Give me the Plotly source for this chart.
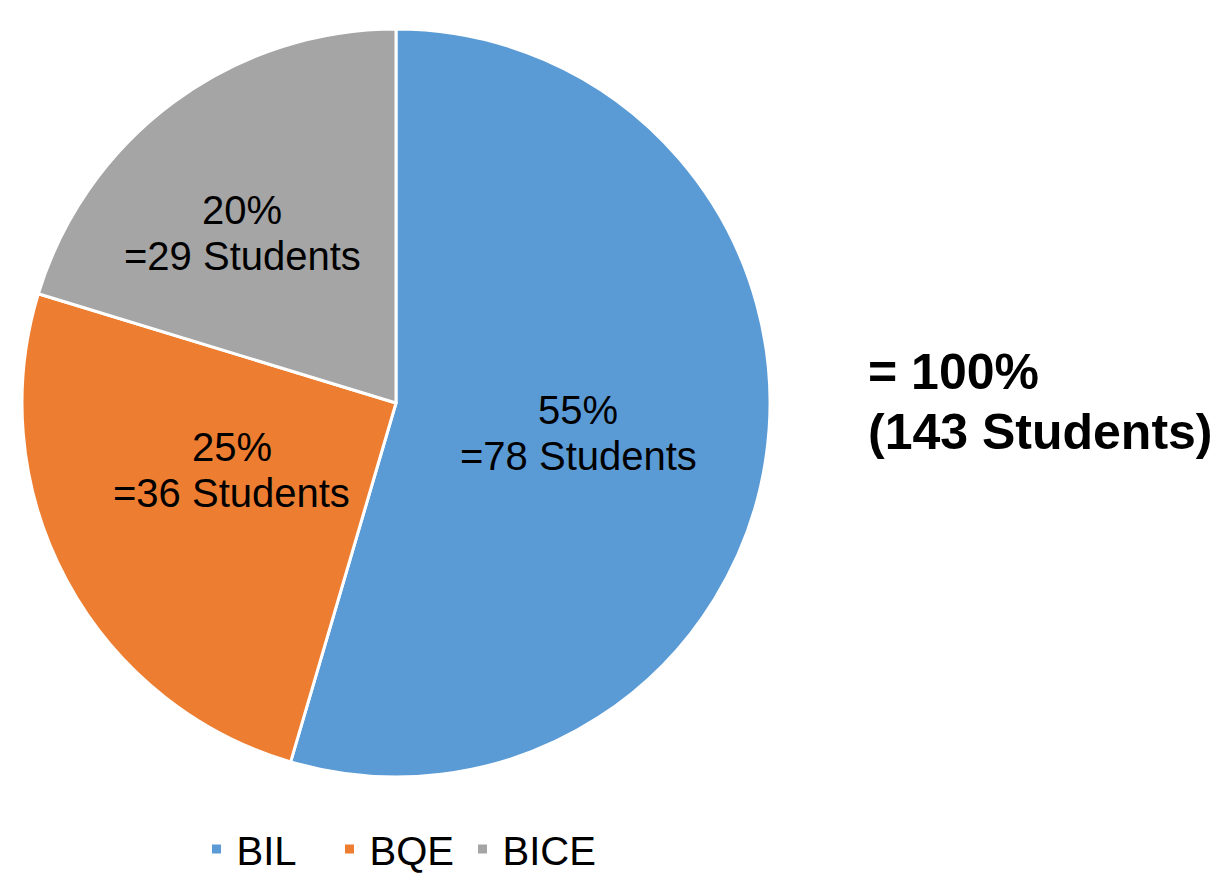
import math
import plotly.graph_objects as go

labels = ["BIL", "BQE", "BICE"]
students = [78, 36, 29]
colors = ["#5B9BD5", "#ED7D31", "#A5A5A5"]

total = sum(students)
W, H = 1216, 877
cx, cy = 396, 403
r_dom, r_lab = 374, 373
FONT = "Liberation Sans, Arial, sans-serif"

# label placement (style): radial fraction and angle tweak per slice
label_rfrac = [0.495, 0.475, 0.614]
label_dang = [1.2, 6.2, -5.7]
line_gap = 23


def px_to_paper(px, py):
    return px / W, 1 - py / H


fig = go.Figure(go.Pie(
    labels=labels,
    values=students,
    sort=False,
    direction="clockwise",
    rotation=0,
    marker=dict(colors=colors, line=dict(color="white", width=3)),
    textinfo="none",
    domain=dict(x=[(cx - r_dom) / W, (cx + r_dom) / W],
                y=[(H - cy - r_dom) / H, (H - cy + r_dom) / H]),
    hoverinfo="label+value+percent",
))

cum = 0
for i, v in enumerate(students):
    mid = (cum + v / 2) / total * 360 + label_dang[i]
    cum += v
    rr = label_rfrac[i] * r_lab
    lx = cx + rr * math.sin(math.radians(mid))
    ly = cy - rr * math.cos(math.radians(mid))
    pct = round(v / total * 100)
    for txt, dy in [(f"{pct}%", -line_gap), (f"={v} Students", line_gap)]:
        x, y = px_to_paper(lx, ly + dy)
        fig.add_annotation(
            x=x, y=y, xref="paper", yref="paper", xanchor="center", yanchor="middle",
            showarrow=False, text=txt,
            font=dict(family=FONT, size=40, color="black"),
        )

for txt, py in [("<b>= 100%</b>", 372), (f"<b>({total} Students)</b>", 432)]:
    x, y = px_to_paper(866, py)
    fig.add_annotation(
        x=x, y=y, xref="paper", yref="paper", xanchor="left", yanchor="middle",
        align="left", showarrow=False, text=txt,
        font=dict(family=FONT, size=50, color="black"),
    )

fig.update_layout(
    width=W, height=H,
    margin=dict(l=0, r=0, t=0, b=0, autoexpand=False),
    paper_bgcolor="white",
    plot_bgcolor="white",
    showlegend=True,
    legend=dict(
        orientation="h", x=396 / W, xanchor="center",
        y=(H - 849) / H, yanchor="middle",
        entrywidth=88, entrywidthmode="pixels",
        font=dict(family=FONT, size=40, color="black"),
    ),
)

fig.write_html("out.html", config={"displayModeBar": False},
               post_script="document.body.style.margin='0';")
